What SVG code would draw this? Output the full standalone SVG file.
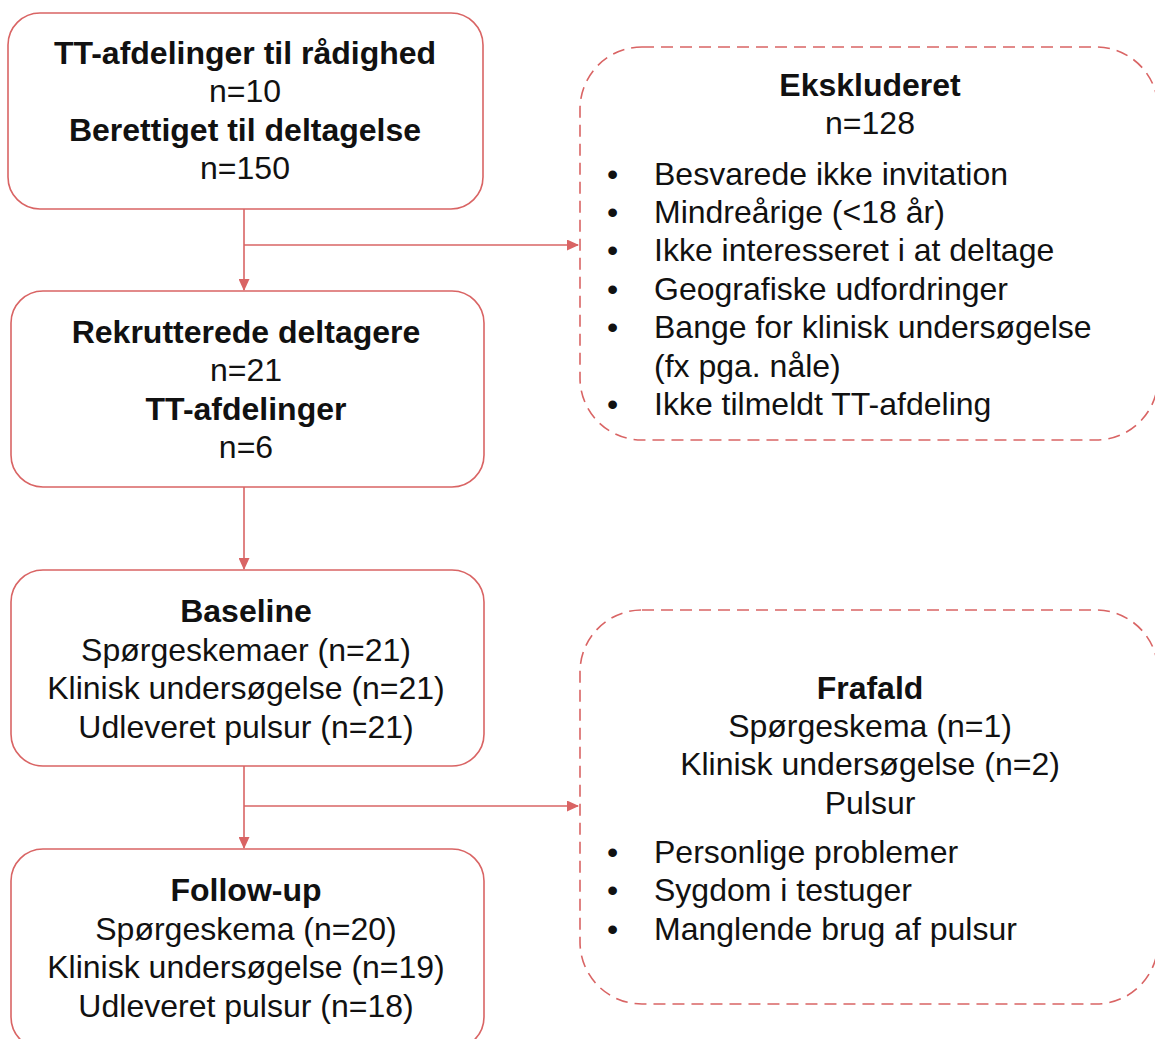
<svg xmlns="http://www.w3.org/2000/svg" width="1155" height="1039" viewBox="0 0 1155 1039">
<style>
.box{fill:#fff;stroke:#d96464;stroke-width:1.6}
.dbox{fill:#fff;stroke:#d96464;stroke-width:1.6;stroke-dasharray:12 7}
.c{stroke:#d96464;stroke-width:1.6;fill:none}
text{font-family:"Liberation Sans",Arial,sans-serif;font-size:32px;fill:#111}
.b{font-weight:bold}
.m{text-anchor:middle}
</style>
<defs>
<marker id="ah" markerWidth="12" markerHeight="11" refX="11" refY="5.5" orient="auto" markerUnits="userSpaceOnUse">
<path d="M0,0 L12,5.5 L0,11 Z" fill="#d96464"/>
</marker>
</defs>
<g id="connectors">
<line class="c" x1="244" y1="209" x2="244" y2="290" marker-end="url(#ah)"/>
<line class="c" x1="244" y1="245" x2="578" y2="245" marker-end="url(#ah)"/>
<line class="c" x1="244" y1="487" x2="244" y2="569" marker-end="url(#ah)"/>
<line class="c" x1="244" y1="766" x2="244" y2="848" marker-end="url(#ah)"/>
<line class="c" x1="244" y1="806" x2="578" y2="806" marker-end="url(#ah)"/>
</g>
<g id="n1">
<rect class="box" x="8" y="13" width="475" height="196" rx="32"/>
<text class="b m" x="245" y="64">TT-afdelinger til rådighed</text>
<text class="m" x="245" y="102">n=10</text>
<text class="b m" x="245" y="141">Berettiget til deltagelse</text>
<text class="m" x="245" y="179">n=150</text>
</g>
<g id="n2">
<rect class="box" x="11" y="291" width="473" height="196" rx="32"/>
<text class="b m" x="246" y="343">Rekrutterede deltagere</text>
<text class="m" x="246" y="381">n=21</text>
<text class="b m" x="246" y="420">TT-afdelinger</text>
<text class="m" x="246" y="458">n=6</text>
</g>
<g id="n3">
<rect class="box" x="11" y="570" width="473" height="196" rx="32"/>
<text class="b m" x="246" y="622">Baseline</text>
<text class="m" x="246" y="661">Spørgeskemaer (n=21)</text>
<text class="m" x="246" y="699">Klinisk undersøgelse (n=21)</text>
<text class="m" x="246" y="738">Udleveret pulsur (n=21)</text>
</g>
<g id="n4">
<rect class="box" x="11" y="849" width="473" height="200" rx="32"/>
<text class="b m" x="246" y="901">Follow-up</text>
<text class="m" x="246" y="940">Spørgeskema (n=20)</text>
<text class="m" x="246" y="978">Klinisk undersøgelse (n=19)</text>
<text class="m" x="246" y="1017">Udleveret pulsur (n=18)</text>
</g>
<g id="ekskluderet">
<rect class="dbox" x="580" y="47" width="578" height="393" rx="62"/>
<text class="b m" x="870" y="96">Ekskluderet</text>
<text class="m" x="870" y="134">n=128</text>
<text x="607" y="185">•</text><text x="654" y="185">Besvarede ikke invitation</text>
<text x="607" y="223">•</text><text x="654" y="223">Mindreårige (&lt;18 år)</text>
<text x="607" y="261">•</text><text x="654" y="261">Ikke interesseret i at deltage</text>
<text x="607" y="300">•</text><text x="654" y="300">Geografiske udfordringer</text>
<text x="607" y="338">•</text><text x="654" y="338">Bange for klinisk undersøgelse</text>
<text x="654" y="377">(fx pga. nåle)</text>
<text x="607" y="415">•</text><text x="654" y="415">Ikke tilmeldt TT-afdeling</text>
</g>
<g id="frafald">
<rect class="dbox" x="580" y="610" width="578" height="394" rx="62"/>
<text class="b m" x="870" y="699">Frafald</text>
<text class="m" x="870" y="737">Spørgeskema (n=1)</text>
<text class="m" x="870" y="775">Klinisk undersøgelse (n=2)</text>
<text class="m" x="870" y="814">Pulsur</text>
<text x="607" y="863">•</text><text x="654" y="863">Personlige problemer</text>
<text x="607" y="901">•</text><text x="654" y="901">Sygdom i testuger</text>
<text x="607" y="940">•</text><text x="654" y="940">Manglende brug af pulsur</text>
</g>
</svg>
